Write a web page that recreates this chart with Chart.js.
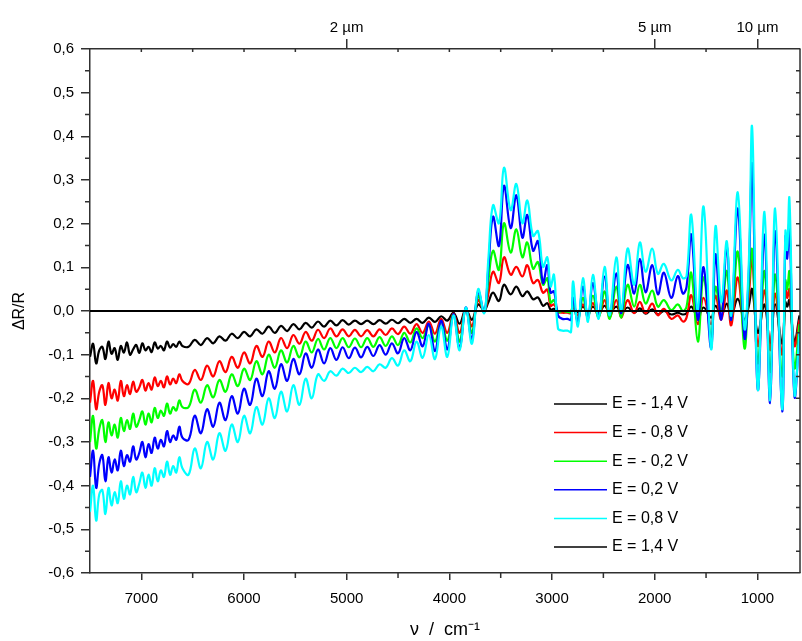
<!DOCTYPE html>
<html>
<head>
<meta charset="utf-8">
<title>dR/R spectra</title>
<script src="https://cdn.jsdelivr.net/npm/chart.js@4.4.1/dist/chart.umd.min.js"></script>
<style>
  html, body { margin: 0; padding: 0; background: #fff; }
  #chart { display: block; }
</style>
</head>
<body>
<canvas id="chart" width="802" height="641"></canvas>
<script>
// wavenumber grid (cm-1), shared by the five measured curves
const wavenumbers = [
  7500, 7470, 7440, 7410, 7380, 7350, 7320, 7290, 7260, 7230,
  7200, 7170, 7140, 7110, 7080, 7050, 7020, 6990, 6960, 6930,
  6900, 6870, 6840, 6810, 6780, 6750, 6720, 6690, 6660, 6630,
  6600,
  6540, 6480, 6420, 6360, 6300, 6240, 6180, 6120,
  6060, 6000, 5940, 5880, 5820, 5760, 5700, 5640,
  5580, 5520, 5460, 5400, 5340, 5280, 5220, 5160,
  5100, 5040, 4980, 4920, 4860, 4800, 4740, 4680,
  4620, 4560, 4500, 4440, 4380, 4320, 4260, 4200,
  4140, 4080, 4020, 3960, 3900, 3840, 3780, 3720,
  3660, 3620, 3575, 3517, 3468, 3403, 3348, 3289, 3241, 3185,
  3137, 3088, 3046, 3014, 2981, 2942, 2900, 2850, 2815, 2796,
  2748, 2699, 2650, 2602, 2546, 2488, 2439, 2374, 2326, 2264,
  2200, 2145, 2089, 2024, 1969, 1911, 1839, 1775, 1726, 1690,
  1644, 1580, 1524, 1450, 1408, 1352, 1298, 1255, 1191, 1126,
  1085, 1051, 996, 931, 876, 827, 759, 727, 710, 688,
  639, 590
];

const eMinus14 = [
  -0.105, -0.075, -0.12, -0.09, -0.082, -0.11, -0.07, -0.098, -0.085, -0.112,
  -0.08, -0.095, -0.072, -0.1, -0.088, -0.078, -0.096, -0.074, -0.09, -0.082,
  -0.094, -0.072, -0.086, -0.08, -0.09, -0.07, -0.084, -0.076, -0.082, -0.07,
  -0.08,
  -0.082, -0.066, -0.078, -0.062, -0.074, -0.058, -0.068, -0.052,
  -0.062, -0.048, -0.058, -0.042, -0.052, -0.036, -0.05, -0.034,
  -0.046, -0.03, -0.042, -0.027, -0.038, -0.024, -0.036, -0.022,
  -0.033, -0.021, -0.031, -0.022, -0.03, -0.022, -0.03, -0.021,
  -0.029, -0.02, -0.028, -0.018, -0.027, -0.018, -0.027, -0.015,
  -0.025, -0.012, -0.022, -0.004, -0.029, 0.004, -0.02, 0.015,
  0.002, 0.02, 0.042, 0.023, 0.06, 0.038, 0.056, 0.034, 0.045, 0.027,
  0.031, 0.012, 0.018, 0.003, 0.005, -0.003, 0.0, -0.002, -0.002, 0.008,
  -0.003, 0.01, -0.003, 0.01, -0.003, 0.012, -0.003, 0.01, -0.003, 0.008,
  -0.004, 0.006, -0.006, 0.004, -0.008, 0.0, -0.008, -0.004, -0.008, -0.005,
  0.01, -0.012, 0.008, -0.015, 0.012, -0.01, 0.017, -0.012, 0.028, -0.02,
  0.01, 0.05, -0.05, 0.015, -0.075, 0.015, -0.075, 0.02, 0.01, 0.025,
  -0.07, -0.01
];

const eMinus08 = [
  -0.21, -0.16, -0.225, -0.185, -0.17, -0.215, -0.165, -0.2, -0.18, -0.205,
  -0.16, -0.195, -0.17, -0.19, -0.162, -0.185, -0.175, -0.158, -0.182, -0.165,
  -0.18, -0.152, -0.172, -0.16, -0.175, -0.15, -0.168, -0.155, -0.165, -0.145,
  -0.16,
  -0.167, -0.135, -0.158, -0.125, -0.15, -0.115, -0.14, -0.105,
  -0.13, -0.095, -0.12, -0.08, -0.105, -0.07, -0.095, -0.062,
  -0.085, -0.055, -0.075, -0.048, -0.068, -0.043, -0.062, -0.04,
  -0.058, -0.042, -0.058, -0.043, -0.058, -0.044, -0.058, -0.042,
  -0.055, -0.04, -0.053, -0.036, -0.052, -0.03, -0.05, -0.024,
  -0.052, -0.018, -0.05, -0.006, -0.05, 0.005, -0.035, 0.025,
  0.0, 0.04, 0.09, 0.064, 0.123, 0.083, 0.101, 0.079, 0.105, 0.064,
  0.071, 0.042, 0.049, 0.012, 0.015, -0.002, -0.004, -0.004, -0.005, 0.012,
  -0.01, 0.015, -0.01, 0.018, -0.012, 0.025, -0.015, 0.025, -0.015, 0.025,
  -0.005, 0.021, -0.005, 0.017, -0.01, 0.005, -0.018, -0.01, -0.024, -0.015,
  0.036, -0.03, 0.03, -0.03, 0.035, -0.02, 0.047, -0.033, 0.077, -0.05,
  0.03, 0.12, -0.08, 0.047, -0.09, 0.04, -0.1, 0.054, 0.03, 0.05,
  -0.08, -0.02
];

const eMinus02 = [
  -0.3, -0.24, -0.315, -0.27, -0.25, -0.3, -0.255, -0.285, -0.26, -0.29,
  -0.245, -0.275, -0.25, -0.27, -0.235, -0.265, -0.25, -0.23, -0.26, -0.235,
  -0.255, -0.222, -0.245, -0.228, -0.24, -0.212, -0.235, -0.22, -0.228, -0.205,
  -0.22,
  -0.22, -0.18, -0.21, -0.17, -0.198, -0.158, -0.185, -0.145,
  -0.172, -0.132, -0.158, -0.115, -0.145, -0.1, -0.13, -0.09,
  -0.118, -0.08, -0.106, -0.07, -0.095, -0.064, -0.088, -0.062,
  -0.085, -0.062, -0.083, -0.063, -0.083, -0.062, -0.082, -0.06,
  -0.08, -0.058, -0.078, -0.05, -0.072, -0.04, -0.062, -0.033,
  -0.07, -0.025, -0.068, -0.008, -0.07, 0.006, -0.05, 0.035,
  -0.002, 0.07, 0.138, 0.094, 0.201, 0.134, 0.187, 0.123, 0.157, 0.097,
  0.112, 0.06, 0.075, 0.019, 0.025, -0.002, 0.0, -0.002, -0.003, 0.02,
  -0.02, 0.03, -0.015, 0.035, -0.015, 0.045, -0.018, 0.056, -0.015, 0.06,
  0.01, 0.06, 0.017, 0.047, 0.01, 0.025, 0.002, 0.015, 0.0, 0.01,
  0.087, -0.07, 0.077, -0.06, 0.055, 0.0, 0.092, -0.02, 0.136, -0.085,
  0.05, 0.14, -0.12, 0.092, -0.14, 0.084, -0.15, 0.07, 0.05, 0.09,
  -0.13, -0.03
];

const ePlus02 = [
  -0.38, -0.32, -0.405, -0.35, -0.33, -0.39, -0.335, -0.37, -0.34, -0.365,
  -0.32, -0.355, -0.33, -0.345, -0.31, -0.34, -0.325, -0.3, -0.335, -0.305,
  -0.325, -0.29, -0.315, -0.295, -0.31, -0.275, -0.3, -0.285, -0.295, -0.265,
  -0.29,
  -0.295, -0.24, -0.28, -0.225, -0.265, -0.21, -0.25, -0.195,
  -0.235, -0.178, -0.215, -0.155, -0.195, -0.138, -0.178, -0.122,
  -0.16, -0.11, -0.145, -0.097, -0.13, -0.088, -0.12, -0.085,
  -0.112, -0.083, -0.108, -0.084, -0.106, -0.082, -0.103, -0.078,
  -0.1, -0.074, -0.097, -0.062, -0.09, -0.048, -0.081, -0.029,
  -0.092, -0.022, -0.088, -0.007, -0.085, 0.008, -0.065, 0.045,
  -0.003, 0.1, 0.216, 0.149, 0.287, 0.19, 0.265, 0.168, 0.22, 0.138,
  0.16, 0.064, 0.105, 0.042, 0.045, -0.01, -0.018, -0.018, -0.02, 0.031,
  -0.025, 0.056, -0.018, 0.064, -0.01, 0.079, -0.01, 0.086, -0.005, 0.105,
  0.04, 0.119, 0.043, 0.105, 0.038, 0.088, 0.03, 0.08, 0.04, 0.055,
  0.175, -0.02, 0.1, -0.085, 0.13, -0.02, 0.15, -0.02, 0.235, -0.062,
  0.08, 0.335, -0.18, 0.175, -0.211, 0.183, -0.23, 0.17, 0.12, 0.2,
  -0.195, -0.05
];

const ePlus08 = [
  -0.46, -0.4, -0.48, -0.42, -0.41, -0.465, -0.405, -0.445, -0.415, -0.44,
  -0.39, -0.43, -0.4, -0.42, -0.38, -0.415, -0.395, -0.37, -0.405, -0.375,
  -0.4, -0.36, -0.39, -0.365, -0.38, -0.345, -0.375, -0.355, -0.37, -0.335,
  -0.36,
  -0.375, -0.315, -0.36, -0.3, -0.34, -0.28, -0.32, -0.26,
  -0.3, -0.24, -0.28, -0.22, -0.26, -0.2, -0.245, -0.185,
  -0.23, -0.17, -0.215, -0.155, -0.2, -0.145, -0.16, -0.138,
  -0.148, -0.132, -0.142, -0.13, -0.14, -0.128, -0.138, -0.122,
  -0.13, -0.108, -0.125, -0.09, -0.115, -0.07, -0.107, -0.055,
  -0.11, -0.035, -0.105, -0.01, -0.09, 0.008, -0.075, 0.05,
  -0.005, 0.12, 0.242, 0.201, 0.328, 0.231, 0.291, 0.201, 0.253, 0.172,
  0.183, 0.101, 0.123, 0.056, 0.083, -0.04, -0.045, -0.045, -0.048, 0.068,
  -0.036, 0.075, -0.025, 0.083, -0.018, 0.101, -0.01, 0.123, 0.0, 0.143,
  0.06, 0.157, 0.09, 0.143, 0.085, 0.108, 0.07, 0.094, 0.075, 0.08,
  0.22, 0.0, 0.239, -0.088, 0.194, 0.02, 0.16, -0.01, 0.272, -0.04,
  0.1, 0.42, -0.18, 0.227, -0.205, 0.235, -0.225, 0.183, 0.14, 0.257,
  -0.19, -0.05
];

// E = 1,4 V is the reference potential: flat zero line
const referenceWavenumbers = [7500, 585];
const ePlus14 = [0, 0];

const seriesLabels = ['E = - 1,4 V', 'E = - 0,8 V', 'E = - 0,2 V', 'E = 0,2 V', 'E = 0,8 V', 'E = 1,4 V'];
const seriesColors = ['#000000', '#ff0000', '#00ff00', '#0000ff', '#00ffff', '#000000'];

// axis ticks
const bottomTicks = [7000, 6000, 5000, 4000, 3000, 2000, 1000];
const bottomMinorTicks = [6500, 5500, 4500, 3500, 2500, 1500];
const topTicks = [5000, 2000, 1000];
const topTickLabels = ['2 µm', '5 µm', '10 µm'];
const topMinorTicks = [7000, 6500, 6000, 5500, 4500, 4000, 3500, 3000, 2500, 1500];
const yMinorTicks = [-0.55, -0.45, -0.35, -0.25, -0.15, -0.05, 0.05, 0.15, 0.25, 0.35, 0.45, 0.55];
const yMajorInner = [-0.5, -0.4, -0.3, -0.2, -0.1, 0, 0.1, 0.2, 0.3, 0.4, 0.5];

const axisColor = '#303030';
const fontFamily = 'Arial, "Liberation Sans", sans-serif';

function toPoints(xs, ys) {
    return xs.map((x, i) => ({ x: x, y: ys[i] }));
}

const measured = [eMinus14, eMinus08, eMinus02, ePlus02, ePlus08];
const datasets = measured.map((values, i) => ({
    label: seriesLabels[i],
    data: toPoints(wavenumbers, values),
    borderColor: seriesColors[i],
    borderWidth: 2.2,
    pointRadius: 0,
    tension: 0.4,
    order: 5 - i,
}));
datasets.push({
    label: seriesLabels[5],
    data: toPoints(referenceWavenumbers, ePlus14),
    borderColor: seriesColors[5],
    borderWidth: 2,
    pointRadius: 0,
    order: 0,
});

// minor ticks, right frame line and inward ticks
const frameTicks = {
    id: 'frameTicks',
    afterDraw(chart) {
        const ctx = chart.ctx;
        const a = chart.chartArea;
        const x = chart.scales.x;
        const y = chart.scales.y;
        ctx.save();
        ctx.strokeStyle = axisColor;
        ctx.lineWidth = 1.5;
        ctx.beginPath();
        ctx.moveTo(a.right, a.top);
        ctx.lineTo(a.right, a.bottom);
        bottomMinorTicks.forEach(v => {
            const px = x.getPixelForValue(v);
            ctx.moveTo(px, a.bottom);
            ctx.lineTo(px, a.bottom + 5);
        });
        topMinorTicks.forEach(v => {
            const px = x.getPixelForValue(v);
            ctx.moveTo(px, a.top);
            ctx.lineTo(px, a.top + 3);
        });
        yMinorTicks.forEach(v => {
            const py = y.getPixelForValue(v);
            ctx.moveTo(a.left, py);
            ctx.lineTo(a.left - 5, py);
        });
        yMinorTicks.concat(yMajorInner).forEach(v => {
            const py = y.getPixelForValue(v);
            ctx.moveTo(a.right, py);
            ctx.lineTo(a.right - 4, py);
        });
        ctx.stroke();
        ctx.restore();
    }
};

// legend inside the lower right of the plot
const insideLegend = {
    id: 'insideLegend',
    afterDraw(chart) {
        const ctx = chart.ctx;
        const a = chart.chartArea;
        const x0 = a.right - 246;
        const y0 = a.bottom - 169;
        ctx.save();
        ctx.font = '16px ' + fontFamily;
        ctx.textBaseline = 'middle';
        chart.data.datasets.forEach((ds, i) => {
            const yy = y0 + i * 28.6;
            ctx.strokeStyle = ds.borderColor;
            ctx.lineWidth = 1.5;
            ctx.beginPath();
            ctx.moveTo(x0, yy);
            ctx.lineTo(x0 + 53, yy);
            ctx.stroke();
            ctx.fillStyle = '#000';
            ctx.fillText(ds.label, x0 + 58, yy);
        });
        ctx.restore();
    }
};

Chart.defaults.font.family = fontFamily;
Chart.defaults.color = '#000';

const config = {
    type: 'line',
    data: { datasets: datasets },
    options: {
        responsive: false,
        animation: false,
        layout: { padding: { left: 0, right: 2, top: 0, bottom: 0 } },
        plugins: {
            legend: { display: false },
            tooltip: { enabled: false },
        },
        scales: {
            x: {
                type: 'linear',
                position: 'bottom',
                reverse: true,
                min: 585,
                max: 7500,
                afterBuildTicks: s => { s.ticks = bottomTicks.map(v => ({ value: v })); },
                afterFit: s => { s.height = 68; },
                grid: { drawOnChartArea: false, tickLength: 7, color: axisColor, lineWidth: 1.5 },
                border: { color: axisColor, width: 1.5 },
                ticks: { font: { size: 15 }, padding: 10, autoSkip: false, maxRotation: 0, callback: v => String(v) },
                title: { display: true, text: 'ν  /  cm⁻¹', font: { size: 18 }, padding: { top: 0, bottom: 0 } },
            },
            x2: {
                type: 'linear',
                position: 'top',
                reverse: true,
                min: 585,
                max: 7500,
                afterBuildTicks: s => { s.ticks = topTicks.map(v => ({ value: v })); },
                afterFit: s => { s.height = 49; },
                grid: { drawOnChartArea: false, tickLength: 10, color: axisColor, lineWidth: 1.5 },
                border: { color: axisColor, width: 1.5 },
                ticks: {
                    font: { size: 15 }, padding: 2, autoSkip: false, maxRotation: 0,
                    callback: v => topTickLabels[topTicks.indexOf(v)],
                },
            },
            y: {
                type: 'linear',
                min: -0.6,
                max: 0.6,
                afterFit: s => { s.width = 90; },
                grid: { drawOnChartArea: false, tickLength: 9, color: axisColor, lineWidth: 1.5 },
                border: { color: axisColor, width: 1.5 },
                ticks: {
                    stepSize: 0.1, font: { size: 15 }, padding: 7, autoSkip: false,
                    callback: v => Math.abs(v) < 1e-9 ? '0,0' : v.toFixed(1).replace('.', ','),
                },
                title: { display: true, text: 'ΔR/R', font: { size: 16 }, padding: { top: 10, bottom: 0 } },
            },
        },
    },
    plugins: [frameTicks, insideLegend],
};

const chart = new Chart(document.getElementById('chart').getContext('2d'), config);
</script>
</body>
</html>
